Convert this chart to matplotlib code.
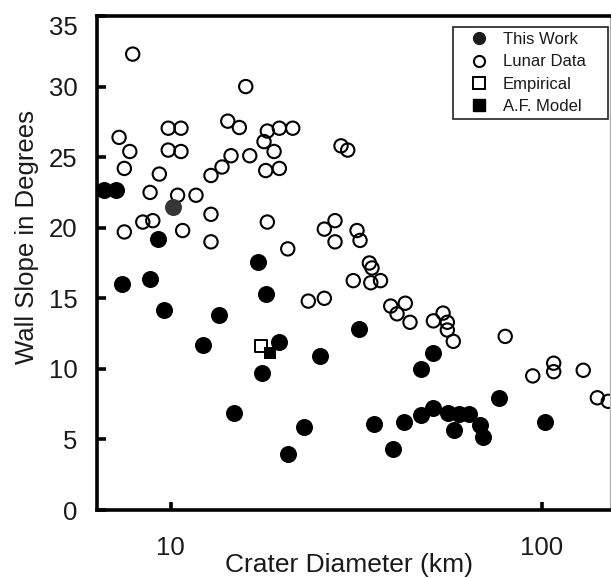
import matplotlib
matplotlib.use("Agg")
import matplotlib.pyplot as plt
from matplotlib.lines import Line2D
from matplotlib.ticker import NullLocator

plt.rcParams['font.family'] = ['Liberation Sans', 'DejaVu Sans']

# crater diameter (km) / wall slope (deg)
this_work_d = [6.62, 7.13, 9.24, 7.39, 8.81, 9.62, 13.5, 17.23, 18.04, 12.25,
               19.63, 17.66, 25.3, 14.85, 22.9, 20.76, 32.2, 51.0, 47.2, 76.6,
               35.3, 42.5, 39.8, 47.2, 50.8, 56.0, 59.9, 63.7, 58.1, 68.1,
               69.3, 101.9]
this_work_slope = [22.7, 22.7, 19.2, 16.0, 16.4, 14.2, 13.8, 17.6, 15.3, 11.7,
                   11.9, 9.7, 10.9, 6.9, 5.9, 4.0, 12.8, 11.1, 10.0, 7.9,
                   6.1, 6.2, 4.3, 6.7, 7.2, 6.9, 6.8, 6.8, 5.7, 6.0,
                   5.2, 6.2]
# one point drawn in dark grey
this_work_grey_d = [10.17]
this_work_grey_slope = [21.5]

lunar_d = [7.91, 15.94, 7.27, 7.77, 7.51, 9.33, 9.86, 10.67, 9.86, 10.67,
           14.26, 15.32, 14.55, 13.76, 12.85, 16.34, 18.22, 17.85, 19.63, 21.33,
           19.0, 18.04, 19.63, 28.77, 29.99, 8.81, 10.45, 11.71, 12.85, 8.42,
           8.96, 7.51, 10.78, 12.85, 18.22, 20.68, 25.94, 27.72, 27.72, 23.49,
           25.94, 31.77, 32.37, 34.29, 34.86, 31.04, 34.6, 36.75, 39.15, 42.85,
           40.72, 44.12, 51.0, 54.15, 55.6, 55.6, 57.7, 79.6, 94.4, 107.5,
           107.5, 129.1, 140.9, 150.8]
lunar_slope = [32.3, 30.0, 26.4, 25.4, 24.2, 23.8, 27.05, 27.05, 25.5, 25.4,
               27.55, 27.1, 25.1, 24.3, 23.7, 25.1, 26.85, 26.1, 27.05, 27.05,
               25.4, 24.05, 24.2, 25.8, 25.5, 22.5, 22.3, 22.3, 20.95, 20.4,
               20.5, 19.7, 19.8, 19.0, 20.4, 18.5, 19.9, 20.5, 19.0, 14.8,
               15.0, 19.8, 19.1, 17.5, 17.15, 16.25, 16.1, 16.25, 14.45, 14.65,
               13.9, 13.3, 13.4, 13.95, 13.3, 12.75, 11.95, 12.3, 9.5, 10.4,
               9.8, 9.9, 7.95, 7.7]

empirical_d = [17.5]
empirical_slope = [11.6]
af_model_d = [18.5]
af_model_slope = [11.15]

xticks = [10, 100]
yticks = [0, 5, 10, 15, 20, 25, 30, 35]

fig = plt.figure(figsize=(6.11, 5.78), dpi=100)
ax = fig.add_axes([97 / 611, 1 - 510 / 578, 513 / 611, 494 / 578])

ax.scatter(lunar_d, lunar_slope, s=92, facecolors='none', edgecolors='black',
           linewidths=1.5, zorder=2)
ax.scatter(this_work_d, this_work_slope, s=150, c='black', linewidths=0, zorder=3)
ax.scatter(this_work_grey_d, this_work_grey_slope, s=150, c='#363636',
           linewidths=0, zorder=3)
ax.scatter(empirical_d, empirical_slope, s=85, marker='s', facecolors='white',
           edgecolors='black', linewidths=1.4, zorder=4)
ax.scatter(af_model_d, af_model_slope, s=85, marker='s', c='black',
           linewidths=0, zorder=4)

ax.set_xscale('log')
ax.set_xlim(6.34, 152.4)
ax.set_ylim(0, 35)
ax.set_xticks(xticks)
ax.set_xticklabels([str(t) for t in xticks])
ax.xaxis.set_minor_locator(NullLocator())
ax.set_yticks(yticks)

ax.tick_params(axis='both', direction='in', width=2.6, labelsize=18.5,
               colors='black', labelcolor='#1a1a1a')
ax.tick_params(axis='x', length=5.5, pad=19)
ax.tick_params(axis='y', length=6.5, pad=14)
# top label sits just below the top spine
ax.yaxis.get_major_ticks()[-1].label1.set_verticalalignment('top')

for side in ['left', 'bottom', 'top']:
    ax.spines[side].set_linewidth(2.6)
ax.spines['right'].set_linewidth(1.0)
ax.spines['right'].set_color('#b0b0b0')

ax.set_xlabel('Crater Diameter (km)', fontsize=19, color='#1a1a1a')
ax.xaxis.set_label_coords(0.491, -0.087)
ax.set_ylabel('Wall Slope in Degrees', fontsize=18.5, color='#1a1a1a')
ax.yaxis.set_label_coords(-0.114, 0.553)

handles = [
    Line2D([], [], ls='none', marker='o', markersize=8.5, color='#1c1c1c'),
    Line2D([], [], ls='none', marker='o', markersize=8, markerfacecolor='none',
           markeredgecolor='black', markeredgewidth=1.5),
    Line2D([], [], ls='none', marker='s', markersize=8.5, markerfacecolor='white',
           markeredgecolor='black', markeredgewidth=1.4),
    Line2D([], [], ls='none', marker='s', markersize=9, color='black'),
]
labels = ['This Work', 'Lunar Data', 'Empirical', 'A.F. Model']
leg = ax.legend(handles, labels, loc='upper left',
                bbox_to_anchor=(0.694, 0.5, 0.302, 0.477), mode='expand',
                borderaxespad=0, fontsize=12, borderpad=0.28, labelspacing=0.44,
                handlelength=2.6, handletextpad=0.1, numpoints=1,
                fancybox=False, framealpha=1, edgecolor='#222222')
leg.get_frame().set_linewidth(1.2)
for t in leg.get_texts():
    t.set_color('#1a1a1a')

fig.savefig('out.png', dpi=100)
